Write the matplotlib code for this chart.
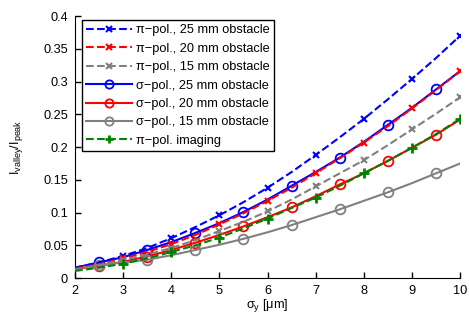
import matplotlib
matplotlib.use("Agg")
import matplotlib.pyplot as plt

plt.rcParams['font.family'] = ['Liberation Sans', 'DejaVu Sans']
plt.rcParams['mathtext.fontset'] = 'custom'
plt.rcParams['mathtext.rm'] = 'Liberation Sans'
plt.rcParams['mathtext.it'] = 'Liberation Sans'

# sigma_y in um
sigma_y = [2, 2.5, 3, 3.5, 4, 4.5, 5, 5.5, 6, 6.5, 7, 7.5, 8, 8.5, 9, 9.5, 10]

# pi-polarisation
pi_25 = [0.016, 0.024, 0.034, 0.046, 0.061, 0.078, 0.096, 0.116, 0.138,
         0.162, 0.188, 0.215, 0.243, 0.273, 0.304, 0.336, 0.370]
pi_20 = [0.015, 0.021, 0.030, 0.040, 0.052, 0.066, 0.082, 0.099, 0.118,
         0.138, 0.160, 0.183, 0.207, 0.232, 0.259, 0.287, 0.316]
pi_15 = [0.013, 0.020, 0.028, 0.036, 0.046, 0.058, 0.072, 0.086, 0.102,
         0.120, 0.140, 0.160, 0.180, 0.203, 0.227, 0.251, 0.276]

# sigma-polarisation
sig_25 = [0.016, 0.024, 0.032, 0.043, 0.055, 0.069, 0.084, 0.101, 0.120,
          0.141, 0.162, 0.184, 0.208, 0.234, 0.260, 0.288, 0.316]
sig_20 = [0.014, 0.019, 0.025, 0.033, 0.043, 0.054, 0.066, 0.079, 0.093,
          0.108, 0.125, 0.143, 0.160, 0.179, 0.199, 0.219, 0.242]
sig_15 = [0.015, 0.020, 0.024, 0.028, 0.035, 0.043, 0.051, 0.060, 0.070,
          0.081, 0.093, 0.105, 0.118, 0.131, 0.145, 0.160, 0.175]

# pi-pol. imaging
pi_img = [0.011, 0.016, 0.022, 0.030, 0.040, 0.050, 0.062, 0.076, 0.091,
          0.107, 0.123, 0.141, 0.160, 0.179, 0.199, 0.220, 0.243]

labels = ['\u03c0\u2212pol., 25 mm obstacle', '\u03c0\u2212pol., 20 mm obstacle',
          '\u03c0\u2212pol., 15 mm obstacle', '\u03c3\u2212pol., 25 mm obstacle',
          '\u03c3\u2212pol., 20 mm obstacle', '\u03c3\u2212pol., 15 mm obstacle',
          '\u03c0\u2212pol. imaging']

xticks = [2, 3, 4, 5, 6, 7, 8, 9, 10]
yticks = [0, 0.05, 0.1, 0.15, 0.2, 0.25, 0.3, 0.35, 0.4]
ytick_labels = ['0', '0.05', '0.1', '0.15', '0.2', '0.25', '0.3', '0.35', '0.4']

blue = (0, 0, 1)
red = (1, 0, 0)
gray = (0.5, 0.5, 0.5)
green = (0, 0.5, 0)

fig = plt.figure(figsize=(4.69, 3.28), dpi=100)
ax = fig.add_axes([0.160, 0.152, 0.821, 0.799])

pi_kw = dict(ls='--', lw=1.5, marker='x', ms=5, mew=1.5, markevery=slice(2, None, 2))
sig_kw = dict(ls='-', lw=1.5, marker='o', ms=7, mew=1.3, mfc='none', markevery=slice(1, None, 2))

h = []
h += ax.plot(sigma_y, pi_25, color=blue, zorder=4, **pi_kw)
h += ax.plot(sigma_y, pi_20, color=red, zorder=4, **pi_kw)
h += ax.plot(sigma_y, pi_15, color=gray, zorder=4, **pi_kw)
h += ax.plot(sigma_y, sig_25, color=blue, zorder=3, **sig_kw)
h += ax.plot(sigma_y, sig_20, color=red, zorder=3, **sig_kw)
h += ax.plot(sigma_y, sig_15, color=gray, zorder=3, **sig_kw)
h += ax.plot(sigma_y, pi_img, color=green, ls='--', lw=1.5, marker='+', ms=7, mew=2,
             markevery=slice(2, None, 2), zorder=5)

leg = ax.legend(h, labels, loc='upper left', bbox_to_anchor=(0.017, 0.985),
                fontsize=9.2, handlelength=3.6, handletextpad=0.3, labelspacing=0.5,
                borderpad=0.35, borderaxespad=0, fancybox=False, framealpha=1,
                markerscale=0.85)
leg.get_frame().set_edgecolor('black')
leg.get_frame().set_linewidth(1.0)

ax.set_xlim(2, 10)
ax.set_ylim(0, 0.4)
ax.set_xticks(xticks)
ax.set_xticklabels([str(t) for t in xticks])
ax.set_yticks(yticks)
ax.set_yticklabels(ytick_labels)
ax.tick_params(direction='in', labelsize=9.2, length=4, width=1, pad=5)
ax.spines['top'].set_visible(False)
ax.spines['right'].set_visible(False)

ax.set_xlabel('\u03c3$_\\mathrm{y}$ [\u03bcm]', fontsize=9.2, labelpad=0)
ax.set_ylabel('I$_\\mathrm{valley}$/I$_\\mathrm{peak}$', fontsize=9.2, labelpad=13)

fig.savefig('out.png', dpi=100)
